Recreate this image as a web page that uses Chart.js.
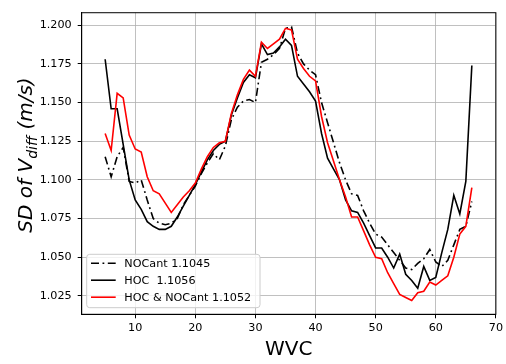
<!DOCTYPE html>
<html>
<head>
<meta charset="utf-8">
<script src="https://cdn.jsdelivr.net/npm/chart.js@4"></script>
<style>html,body{margin:0;padding:0;background:#fff}</style>
</head>
<body>
<canvas id="c" width="506" height="364" style="width:506px;height:364px;display:block"></canvas>
<script>
// Wind vector cell index
const wvc = [5, 6, 7, 8, 9, 10, 11, 12, 13, 14, 15, 16, 17, 18, 19, 20, 21, 22, 23, 24, 25,
  26, 27, 28, 29, 30, 31, 32, 33, 34, 35, 36, 37, 38, 39, 40, 41, 42, 43, 44, 45,
  46, 47, 48, 49, 50, 51, 52, 53, 54, 55, 56, 57, 58, 59, 60, 61, 62, 63, 64, 65, 66];

// Standard deviation of V_diff (m/s) per WVC
const noCant = [1.115, 1.102, 1.115, 1.121, 1.099, 1.098, 1.100, 1.087, 1.075, 1.072, 1.071,
  1.072, 1.075, 1.084, 1.090, 1.096, 1.104, 1.111, 1.117, 1.113, 1.122,
  1.139, 1.147, 1.151, 1.152, 1.150, 1.176, 1.178, 1.181, 1.185, 1.198,
  1.199, 1.182, 1.175, 1.171, 1.168, 1.150, 1.137, 1.124, 1.111, 1.100,
  1.091, 1.090, 1.080, 1.072, 1.065, 1.063, 1.058, 1.053, 1.048, 1.043,
  1.042, 1.046, 1.049, 1.055, 1.047, 1.044, 1.048, 1.058, 1.068, 1.070, 1.086];

const hoc = [1.178, 1.146, 1.146, 1.123, 1.100, 1.087, 1.081, 1.073, 1.070, 1.068, 1.068,
  1.070, 1.076, 1.083, 1.090, 1.097, 1.105, 1.113, 1.119, 1.123, 1.125,
  1.142, 1.153, 1.163, 1.168, 1.166, 1.188, 1.181, 1.182, 1.186, 1.191,
  1.187, 1.167, 1.162, 1.157, 1.151, 1.130, 1.114, 1.107, 1.100, 1.087,
  1.080, 1.079, 1.072, 1.064, 1.056, 1.056, 1.050, 1.043, 1.052, 1.039,
  1.035, 1.030, 1.044, 1.035, 1.037, 1.053, 1.068, 1.090, 1.078, 1.099, 1.174];

const hocNoCant = [1.130, 1.119, 1.156, 1.153, 1.129, 1.120, 1.118, 1.102, 1.093, 1.091, 1.085,
  1.079, 1.084, 1.089, 1.093, 1.098, 1.107, 1.115, 1.121, 1.124, 1.125,
  1.143, 1.155, 1.165, 1.171, 1.167, 1.189, 1.185, 1.188, 1.191, 1.198,
  1.197, 1.178, 1.172, 1.167, 1.164, 1.141, 1.124, 1.112, 1.100, 1.089,
  1.076, 1.076, 1.067, 1.058, 1.050, 1.049, 1.040, 1.033, 1.026, 1.024,
  1.022, 1.027, 1.028, 1.034, 1.032, 1.035, 1.038, 1.050, 1.065, 1.070, 1.095];

const seriesLabels = ['NOCant 1.1045', 'HOC  1.1056', 'HOC & NOCant 1.1052'];
const xTicks = [10, 20, 30, 40, 50, 60, 70];
const yTicks = [1.025, 1.050, 1.075, 1.100, 1.125, 1.150, 1.175, 1.200];

const pts = arr => wvc.map((x, i) => ({ x: x, y: arr[i] }));
const FONT = '"DejaVu Sans", sans-serif';

// frame, axis titles and an in-plot legend
const decor = {
  id: 'decor',
  afterDraw(chart) {
    const ctx = chart.ctx, a = chart.chartArea;
    ctx.save();
    ctx.strokeStyle = '#000';
    ctx.lineWidth = 1;
    ctx.strokeRect(a.left, a.top, a.right - a.left, a.bottom - a.top);

    // x title
    ctx.fillStyle = '#000';
    ctx.font = '20px ' + FONT;
    ctx.textAlign = 'center';
    ctx.textBaseline = 'alphabetic';
    ctx.fillText('WVC', (a.left + a.right) / 2, 355);

    // y title with subscript
    const main1 = 'SD of V', sub = 'diff', main2 = ' (m/s)';
    const big = 'italic 20px ' + FONT, small = 'italic 14px ' + FONT;
    ctx.font = big;
    const w1 = ctx.measureText(main1).width, w3 = ctx.measureText(main2).width;
    ctx.font = small;
    const w2 = ctx.measureText(sub).width;
    const total = w1 + w2 + w3;
    ctx.translate(32, 155);
    ctx.rotate(-Math.PI / 2);
    ctx.textAlign = 'left';
    let x0 = -total / 2;
    ctx.font = big;
    ctx.fillText(main1, x0, 0);
    ctx.font = small;
    ctx.fillText(sub, x0 + w1, 4.5);
    ctx.font = big;
    ctx.fillText(main2, x0 + w1 + w2, 0);
    ctx.setTransform(1, 0, 0, 1, 0, 0);

    // legend
    ctx.font = '11.2px ' + FONT;
    let tw = 0;
    seriesLabels.forEach(t => { tw = Math.max(tw, ctx.measureText(t).width); });
    const bx = 86.7, by = 254.3, textX = 124.3;
    const bw = Math.max(173.3, textX + tw + 5 - bx), bh = 53.4;
    ctx.beginPath();
    ctx.roundRect(bx, by, bw, bh, 3);
    ctx.fillStyle = 'rgba(255,255,255,0.8)';
    ctx.fill();
    ctx.strokeStyle = '#cccccc';
    ctx.lineWidth = 1;
    ctx.stroke();
    const rows = [263.3, 280.2, 297.2];
    chart.data.datasets.forEach((ds, i) => {
      ctx.beginPath();
      ctx.strokeStyle = ds.borderColor;
      ctx.lineWidth = ds.borderWidth;
      ctx.setLineDash(ds.borderDash || []);
      ctx.moveTo(91, rows[i]);
      ctx.lineTo(115.7, rows[i]);
      ctx.stroke();
      ctx.setLineDash([]);
      ctx.fillStyle = '#000';
      ctx.textAlign = 'left';
      ctx.textBaseline = 'middle';
      ctx.fillText(ds.label, textX, rows[i] + 0.5);
    });
    ctx.restore();
  }
};

new Chart(document.getElementById('c'), {
  type: 'line',
  data: {
    datasets: [
      { label: seriesLabels[0], data: pts(noCant), borderColor: '#000000', borderWidth: 1.6,
        borderDash: [8, 3.5, 1.8, 3.5], order: 2 },
      { label: seriesLabels[1], data: pts(hoc), borderColor: '#000000', borderWidth: 1.6, order: 1 },
      { label: seriesLabels[2], data: pts(hocNoCant), borderColor: '#ff0000', borderWidth: 1.6, order: 0 }
    ]
  },
  options: {
    responsive: false,
    devicePixelRatio: 1,
    animation: false,
    events: [],
    elements: { point: { radius: 0 }, line: { tension: 0, fill: false, borderCapStyle: 'butt' } },
    layout: { padding: { left: 0, right: 9.7, top: 4.8, bottom: 0 } },
    plugins: { legend: { display: false }, tooltip: { enabled: false } },
    scales: {
      x: {
        type: 'linear', min: 1.1, max: 70,
        afterBuildTicks: s => { s.ticks = xTicks.map(v => ({ value: v })); },
        afterFit: s => { s.height = 49.7; },
        grid: { color: '#b0b0b0', lineWidth: 0.8, tickColor: '#000', tickLength: 4, tickWidth: 1 },
        border: { color: '#000', width: 1 },
        ticks: { color: '#000', font: { family: FONT, size: 11.2 }, padding: 3, maxRotation: 0, autoSkip: false,
          callback: v => String(v) }
      },
      y: {
        type: 'linear', min: 1.0131, max: 1.2081,
        afterBuildTicks: s => { s.ticks = yTicks.map(v => ({ value: v })); },
        afterFit: s => { s.width = 81.7; },
        grid: { color: '#b0b0b0', lineWidth: 0.8, tickColor: '#000', tickLength: 4, tickWidth: 1 },
        border: { color: '#000', width: 1 },
        ticks: { color: '#000', font: { family: FONT, size: 11.2 }, padding: 6, autoSkip: false,
          callback: v => Number(v).toFixed(3) }
      }
    }
  },
  plugins: [decor]
});
</script>
</body>
</html>
